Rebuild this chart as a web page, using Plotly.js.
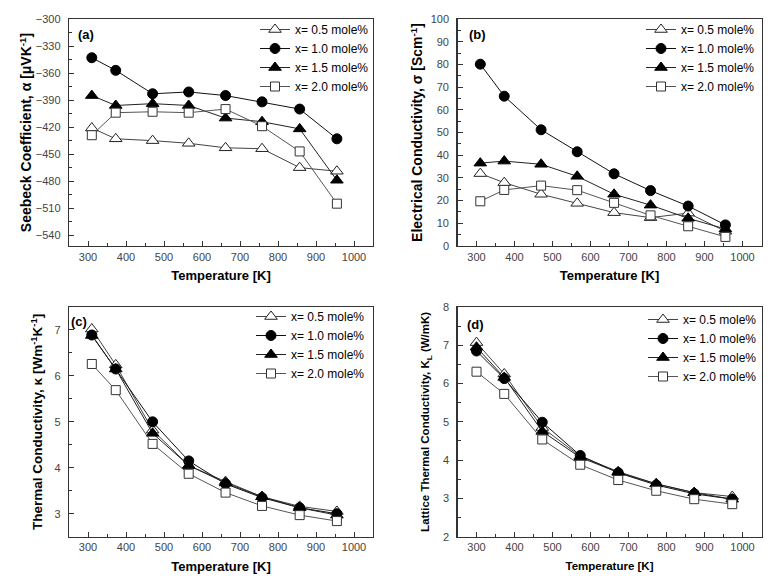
<!DOCTYPE html>
<html>
<head>
<meta charset="utf-8">
<script src="https://cdn.plot.ly/plotly-3.0.1.min.js"></script>
<style>html,body{margin:0;padding:0;background:#fff;}#chart{width:778px;height:581px;}</style>
</head>
<body>
<div id="chart"></div>
<script>
// ---------- data ----------
const seriesNames = ['x= 0.5 mole%', 'x= 1.0 mole%', 'x= 1.5 mole%', 'x= 2.0 mole%'];
const tempABC = [310, 373, 470, 565, 662, 758, 857, 955];
const tempD = [300, 373, 473, 573, 673, 773, 873, 973];

// (a) Seebeck coefficient [uV/K]
const seebeck05 = [-421, -433, -435, -438, -443, -444, -465, -469];
const seebeck10 = [-343, -357, -383, -381, -385, -392, -400, -433];
const seebeck15 = [-385, -396, -394, -396, -410, -414, -422, -479];
const seebeck20 = [-429, -404, -403, -404, -400, -419, -447, -505];

// (b) Electrical conductivity [S/cm]
const sigma05 = [31.9, 27.9, 22.8, 18.8, 14.7, 12.5, 14.5, 6.5];
const sigma10 = [80.1, 66.0, 51.2, 41.5, 31.8, 24.4, 17.6, 9.3];
const sigma15 = [36.5, 37.4, 36.0, 30.7, 22.8, 18.0, 12.2, 7.5];
const sigma20 = [19.7, 24.7, 26.6, 24.6, 19.0, 13.5, 8.7, 4.0];

// (c) Thermal conductivity [W/mK]
const kappa05 = [7.02, 6.24, 4.82, 4.05, 3.70, 3.37, 3.16, 3.05];
const kappa10 = [6.89, 6.15, 5.00, 4.15, 3.65, 3.35, 3.13, 3.00];
const kappa15 = [6.88, 6.15, 4.75, 4.05, 3.67, 3.37, 3.13, 2.97];
const kappa20 = [6.26, 5.69, 4.52, 3.87, 3.46, 3.17, 2.97, 2.84];

// (d) Lattice thermal conductivity [W/mK]
const kl05 = [7.07, 6.25, 4.85, 4.10, 3.70, 3.38, 3.15, 3.05];
const kl10 = [6.85, 6.13, 4.99, 4.12, 3.67, 3.35, 3.12, 2.98];
const kl15 = [6.95, 6.16, 4.75, 4.07, 3.68, 3.38, 3.15, 2.98];
const kl20 = [6.31, 5.73, 4.54, 3.88, 3.48, 3.20, 2.98, 2.85];

// ---------- styling ----------
const W = 778, H = 581;
const FONT = 'Arial, "Liberation Sans", Helvetica, sans-serif';
const styles = [
  {symbol: 'triangle-up', size: 11, color: '#ffffff', lineColor: '#222', line: '#444'},
  {symbol: 'circle', size: 10, color: '#000000', lineColor: '#000', line: '#111'},
  {symbol: 'triangle-up', size: 11, color: '#000000', lineColor: '#000', line: '#222'},
  {symbol: 'square', size: 9, color: '#ffffff', lineColor: '#333', line: '#555'}
];

function makeTraces(x, ys, ax, leg) {
  return ys.map((y, i) => ({
    type: 'scatter', mode: 'lines+markers',
    x: x, y: y,
    name: seriesNames[i],
    xaxis: 'x' + ax, yaxis: 'y' + ax,
    legend: leg,
    line: {color: styles[i].line, width: 1},
    marker: {symbol: styles[i].symbol, size: styles[i].size, color: styles[i].color,
             line: {color: styles[i].lineColor, width: 1}},
    cliponaxis: false
  }));
}

const traces = [].concat(
  makeTraces(tempABC, [seebeck05, seebeck10, seebeck15, seebeck20], '', 'legend'),
  makeTraces(tempABC, [sigma05, sigma10, sigma15, sigma20], '2', 'legend2'),
  makeTraces(tempABC, [kappa05, kappa10, kappa15, kappa20], '3', 'legend3'),
  makeTraces(tempD, [kl05, kl10, kl15, kl20], '4', 'legend4')
);

function px2x(p) { return p / W; }
function py2y(p) { return 1 - p / H; }

function baseAxis(extra) {
  return Object.assign({
    showline: true, linecolor: '#333', linewidth: 1.3, mirror: true,
    ticks: 'inside', ticklen: 5, tickwidth: 1, tickcolor: '#333',
    showgrid: false, zeroline: false,
    tickfont: {family: FONT, size: 11, color: '#444'}
  }, extra);
}

function xAxis(domain, anchor, titleSize, standoff) {
  return baseAxis({
    domain: domain, anchor: anchor, range: [250, 1050],
    tick0: 0, dtick: 100,
    minor: {ticks: 'inside', ticklen: 3, tickwidth: 1, tickcolor: '#333', dtick: 50, tick0: 0, showgrid: false},
    title: {text: 'Temperature [K]', font: {family: FONT, size: titleSize, color: '#000', weight: 'bold'}, standoff: standoff}
  });
}
function yAxis(domain, anchor, range, dtick, mdtick, title, titleSize, standoff) {
  return baseAxis({
    domain: domain, anchor: anchor, range: range,
    tick0: 0, dtick: dtick, ticklabelstandoff: 5,
    minor: {ticks: 'inside', ticklen: 3, tickwidth: 1, tickcolor: '#333', dtick: mdtick, tick0: 0, showgrid: false},
    title: {text: title, font: {family: FONT, size: titleSize, color: '#000', weight: 'bold'}, standoff: standoff}
  });
}

const xdomL = [px2x(69), px2x(373)];
const xdomR = [px2x(457.5), px2x(761.5)];
const ydomT = [py2y(246), py2y(19)];
const ydomB = [py2y(536.7), py2y(307)];

function legendAt(xr, ytop) {
  return {
    x: px2x(xr), xanchor: 'right', y: py2y(ytop), yanchor: 'top',
    bgcolor: 'rgba(0,0,0,0)', borderwidth: 0, itemwidth: 30,
    font: {family: FONT, size: 12, color: '#000'}, tracegroupgap: 0
  };
}

const layout = {
  width: W, height: H,
  margin: {l: 0, r: 0, t: 0, b: 0},
  paper_bgcolor: '#fff', plot_bgcolor: '#fff',
  showlegend: true,
  font: {family: FONT, color: '#000'},
  xaxis: xAxis(xdomL, 'y', 13, 9),
  yaxis: yAxis(ydomT, 'x', [-552, -300], 30, 15, 'Seebeck Coefficient, α [μVK<sup>-1</sup>]', 14, 0),
  xaxis2: xAxis(xdomR, 'y2', 13, 9),
  yaxis2: yAxis(ydomT, 'x2', [0, 100], 10, 5, 'Electrical Conductivity, σ [Scm<sup>-1</sup>]', 14, 4),
  xaxis3: xAxis(xdomL, 'y3', 13, 9),
  yaxis3: yAxis(ydomB, 'x3', [2.5, 7.5], 1, 0.5, 'Thermal Conductivity, κ [Wm<sup>-1</sup>K<sup>-1</sup>]', 13.5, 8),
  xaxis4: xAxis(xdomR, 'y4', 11.5, 9),
  yaxis4: yAxis(ydomB, 'x4', [2, 8], 1, 0.5, 'Lattice Thermal Conductivity, K<sub>L</sub> (W/mK)', 11.5, 10),
  legend: legendAt(374, 15),
  legend2: legendAt(760, 15),
  legend3: legendAt(370, 302),
  legend4: legendAt(762, 305),
  annotations: [
    {text: '<b>(a)</b>', x: px2x(76), y: py2y(35), xref: 'paper', yref: 'paper', xanchor: 'left', yanchor: 'middle', showarrow: false, font: {family: FONT, size: 13, color: '#000'}},
    {text: '<b>(b)</b>', x: px2x(467), y: py2y(34), xref: 'paper', yref: 'paper', xanchor: 'left', yanchor: 'middle', showarrow: false, font: {family: FONT, size: 13, color: '#000'}},
    {text: '<b>(c)</b>', x: px2x(69), y: py2y(321), xref: 'paper', yref: 'paper', xanchor: 'left', yanchor: 'middle', showarrow: false, font: {family: FONT, size: 13, color: '#000'}},
    {text: '<b>(d)</b>', x: px2x(465), y: py2y(324), xref: 'paper', yref: 'paper', xanchor: 'left', yanchor: 'middle', showarrow: false, font: {family: FONT, size: 13, color: '#000'}}
  ]
};

Plotly.newPlot('chart', traces, layout, {displayModeBar: false, staticPlot: true});
</script>
</body>
</html>
